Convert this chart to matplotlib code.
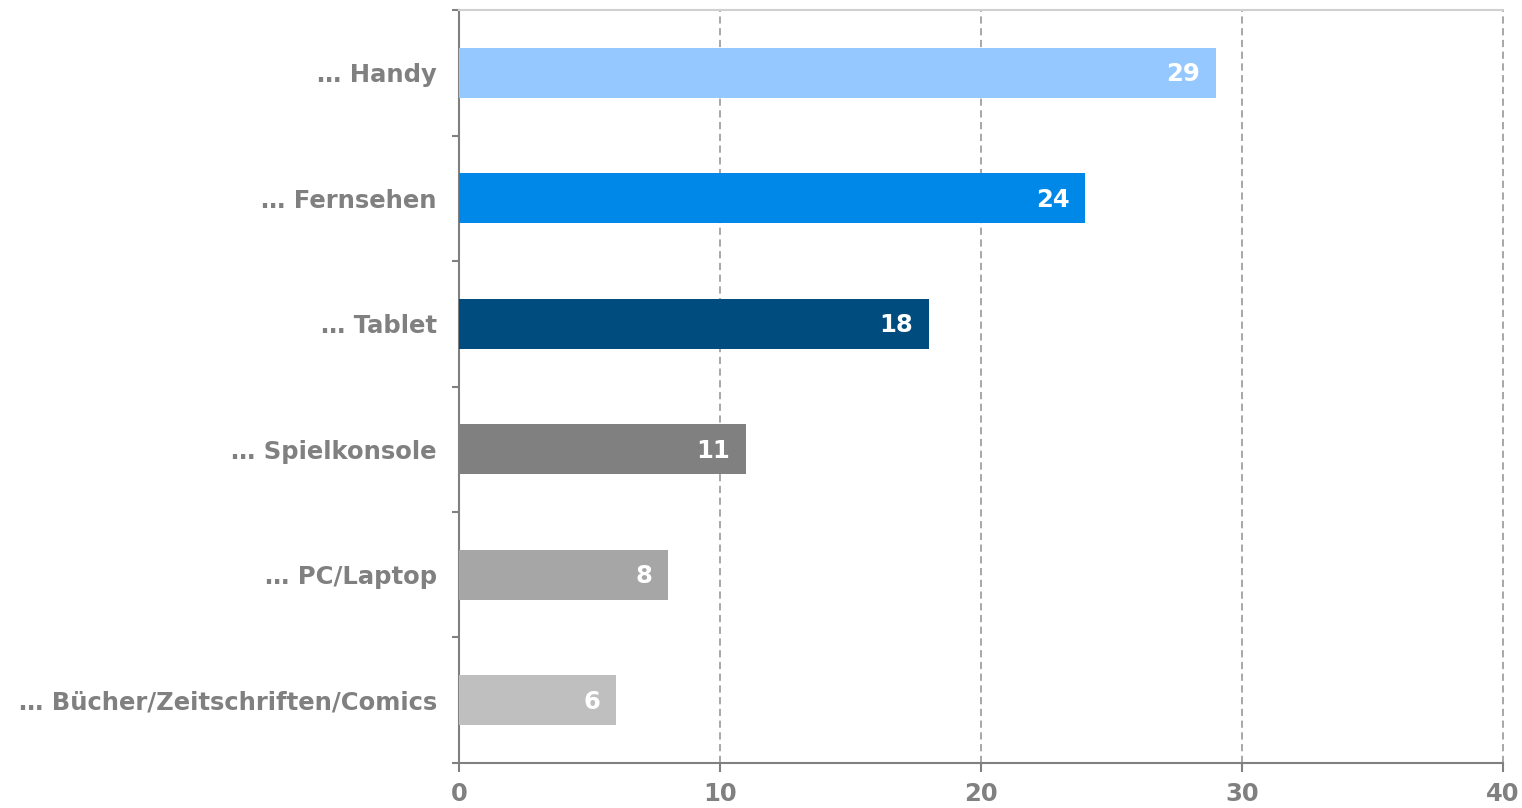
import numpy as np
import matplotlib.pyplot as plt

labels = ["… Handy", "… Fernsehen", "… Tablet", "… Spielkonsole", "… PC/Laptop",
          "… Bücher/Zeitschriften/Comics"]
values = [29, 24, 18, 11, 8, 6]
colors = ["#94C8FF", "#0088E8", "#004C7E", "#808080", "#A6A6A6", "#BFBFBF"]

grey = "#808080"
plt.rcParams['font.family'] = ['DejaVu Sans']
fs = 17.5

fig = plt.figure(figsize=(15.22, 8.08), dpi=100)
ax = fig.add_axes([0.3016, 0.0557, 0.6859, 0.9319])

y = np.arange(len(labels))
ax.barh(y, values, height=0.4, color=colors, zorder=3)
for yi, v in zip(y, values):
    ax.text(v - 0.6, yi + 0.01, str(v), color="white", fontsize=fs, fontweight="bold",
            ha="right", va="center", zorder=4)

ax.set_xlim(0, 40)
ax.set_ylim(len(labels) - 0.5, -0.5)
ax.set_xticks([0, 10, 20, 30, 40])
ax.set_xticklabels(["0", "10", "20", "30", "40"], fontsize=fs, fontweight="bold", color=grey)
ax.set_yticks(y)
ax.set_yticklabels(labels, fontsize=fs, fontweight="bold", color=grey)
ax.tick_params(axis="y", length=0, pad=16)
ax.set_yticks(np.arange(-0.5, len(labels), 1), minor=True)
ax.tick_params(axis="y", which="minor", length=5, width=1.5, color=grey, direction="out")
ax.tick_params(axis="x", length=6.5, width=1.5, color=grey, direction="out", pad=7)

for gx in [10, 20, 30, 40]:
    ax.axvline(gx, color="#A0A0A0", lw=1.3, ls=(0, (4, 2.5)), zorder=1, clip_on=False)

for s in ["left", "bottom"]:
    ax.spines[s].set_color(grey)
    ax.spines[s].set_linewidth(1.5)
ax.spines["top"].set_color("#D0D0D0")
ax.spines["top"].set_linewidth(1.5)
ax.spines["right"].set_visible(False)

fig.savefig("out.png", dpi=100)
